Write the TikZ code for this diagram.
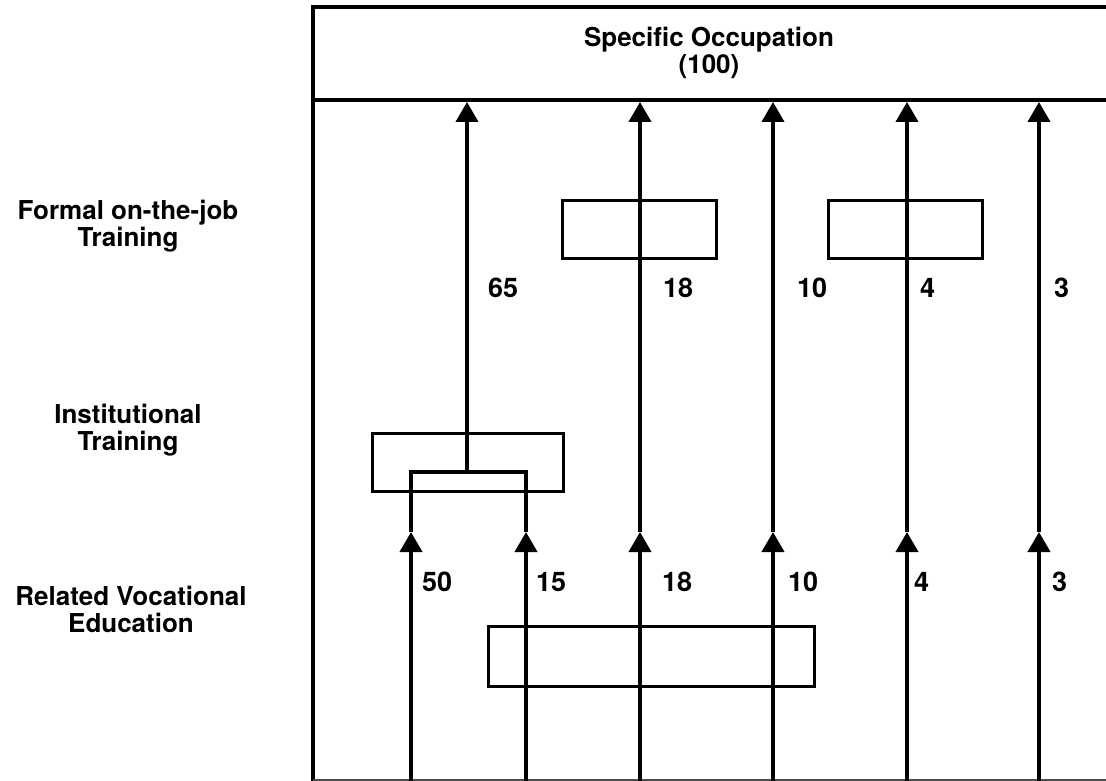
\documentclass[tikz,border=0pt]{standalone}
\usepackage{fontspec}
\setmainfont{TeX Gyre Heros}
\usetikzlibrary{arrows.meta}
\begin{document}
\begin{tikzpicture}[x=1pt,y=-1pt,
  lbl/.style={font=\bfseries\fontsize{26}{27}\selectfont, align=center, inner sep=0pt},
  num/.style={font=\bfseries\fontsize{27}{27}\selectfont, anchor=west, inner sep=0pt},
  frameline/.style={line width=4pt, line cap=rect},
  flow/.style={line width=4pt},
  arr/.style={flow, -{Triangle[length=20pt,width=22pt]}},
  stagebox/.style={draw, line width=3pt, inner sep=0pt}
]
\useasboundingbox (0,0) rectangle (1106,781);
% frame
\draw[frameline] (1106,7) -- (313,7) -- (313,780);
\draw[frameline] (313,100) -- (1106,100);
\draw[line width=1.2pt, black!70] (313,780) -- (1106,780);
\node[lbl] (occ) at (709,53) {Specific Occupation\\(100)};
% row labels
\node[lbl] (ojtlab) at (128,226) {Formal on-the-job\\Training};
\node[lbl] (instlab) at (128,430) {Institutional\\Training};
\node[lbl] (voclab) at (131,609) {Related Vocational\\Education};
% stage boxes
\node[stagebox, minimum width=154pt, minimum height=58pt] (ojtA) at (639,229) {};
\node[stagebox, minimum width=154pt, minimum height=58pt] (ojtB) at (905,229) {};
\node[stagebox, minimum width=191pt, minimum height=58pt] (inst) at (467.5,462) {};
\node[stagebox, minimum width=326pt, minimum height=60pt] (voc) at (651,656) {};
% coordinates
\foreach \n/\x in {a/411,b/526,c/640,d/773,e/907,f/1039}{
  \coordinate (bot\n) at (\x,781);
  \coordinate (mid\n) at (\x,532);
}
\foreach \n/\x in {g/467,c/640,d/773,e/907,f/1039}{
  \coordinate (top\n) at (\x,102);
}
\coordinate (forkL) at (411,472);
\coordinate (forkR) at (526,472);
\coordinate (forkM) at (467,472);
% lower arrows
\foreach \n in {a,b,c,d,e,f}{
  \draw[arr] (bot\n) -- (mid\n);
}
% fork into institutional training
\draw[flow, line join=miter] (mida) -- (forkL) -- (forkR) -- (midb);
\draw[arr] (forkM) -- (topg);
% upper arrows
\foreach \n in {c,d,e,f}{
  \draw[arr] (mid\n) -- (top\n);
}
% numbers, upper
\node[num] (n65) at (488,288) {65};
\node[num] (n18u) at (663,288) {18};
\node[num] (n10u) at (797,288) {10};
\node[num] (n4u) at (920,288) {4};
\node[num] (n3u) at (1054,288) {3};
% numbers, lower
\node[num] (n50) at (422,582) {50};
\node[num] (n15) at (536,582) {15};
\node[num] (n18l) at (662,582) {18};
\node[num] (n10l) at (788,582) {10};
\node[num] (n4l) at (914,582) {4};
\node[num] (n3l) at (1052,582) {3};
\end{tikzpicture}
\end{document}
